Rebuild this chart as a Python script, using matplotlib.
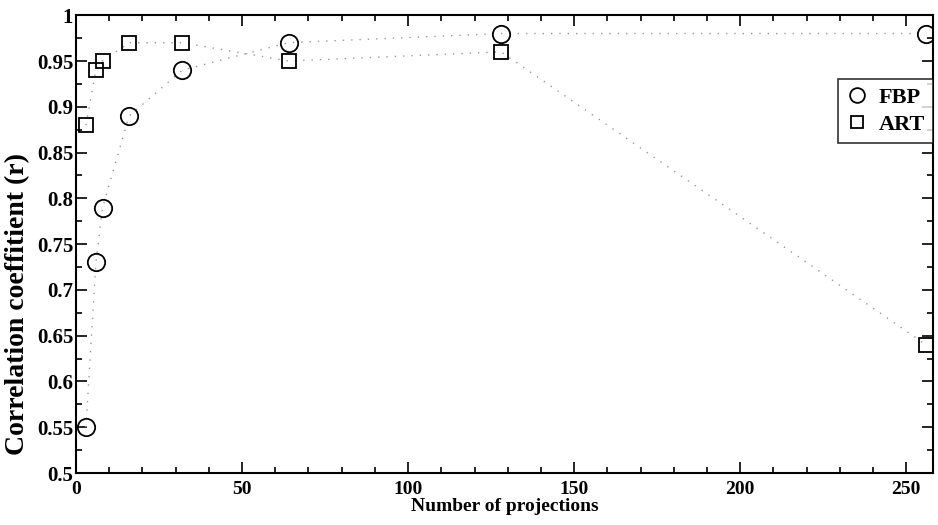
import matplotlib
matplotlib.use('Agg')
import matplotlib.pyplot as plt
from matplotlib.ticker import MultipleLocator

# number of projections
proj = [3, 6, 8, 16, 32, 64, 128, 256]
fbp = [0.55, 0.73, 0.79, 0.89, 0.94, 0.97, 0.98, 0.98]
art = [0.88, 0.94, 0.95, 0.97, 0.97, 0.95, 0.96, 0.64]

plt.rcParams['font.family'] = ['Liberation Serif', 'DejaVu Serif']
plt.rcParams['font.weight'] = 'bold'
plt.rcParams['axes.labelweight'] = 'bold'

fig = plt.figure(figsize=(9.38, 5.25), dpi=100)
ax = fig.add_axes([0.081, 0.099, 0.9135, 0.872])

ax.plot(proj, fbp, linestyle=(0, (1, 5)), color='0.6', lw=1.0)
ax.plot(proj, art, linestyle=(0, (1, 5)), color='0.6', lw=1.0)
ax.plot(proj, fbp, linestyle='none', marker='o', ms=12.5, mfc='none',
        mec='black', mew=1.3, label='FBP')
ax.plot(proj, art, linestyle='none', marker='s', ms=10.5, mfc='none',
        mec='black', mew=1.3, label='ART')

ax.set_xlim(0, 258)
ax.set_ylim(0.5, 1.0)
ax.xaxis.set_major_locator(MultipleLocator(50))
ax.xaxis.set_minor_locator(MultipleLocator(10))
ax.yaxis.set_minor_locator(MultipleLocator(0.025))
ax.set_yticks([0.5, 0.55, 0.6, 0.65, 0.7, 0.75, 0.8, 0.85, 0.9, 0.95, 1.0])
ax.set_yticklabels(['0.5', '0.55', '0.6', '0.65', '0.7', '0.75', '0.8',
                    '0.85', '0.9', '0.95', '1'])

ax.tick_params(which='both', direction='in', top=True, right=True, width=1.2)
ax.tick_params(which='major', length=8)
ax.tick_params(which='minor', length=4)
ax.tick_params(axis='y', labelsize=15, pad=2)
ax.tick_params(axis='x', labelsize=14, pad=6)
for s in ax.spines.values():
    s.set_linewidth(1.5)

ax.set_xlabel('Number of projections', fontsize=14, labelpad=0)
ax.set_ylabel('Correlation coeffitient (r)', fontsize=20)
ax.yaxis.set_label_coords(-0.053, 0.37)

leg = ax.legend(loc='upper right', bbox_to_anchor=(1.0, 0.86),
                fontsize=16, frameon=True, fancybox=False, edgecolor='black',
                markerscale=0.85, handlelength=1.0, handletextpad=0.5,
                borderpad=0.35, labelspacing=0.3, borderaxespad=0)
leg.get_frame().set_linewidth(1.2)

fig.savefig('out.png', dpi=100)
